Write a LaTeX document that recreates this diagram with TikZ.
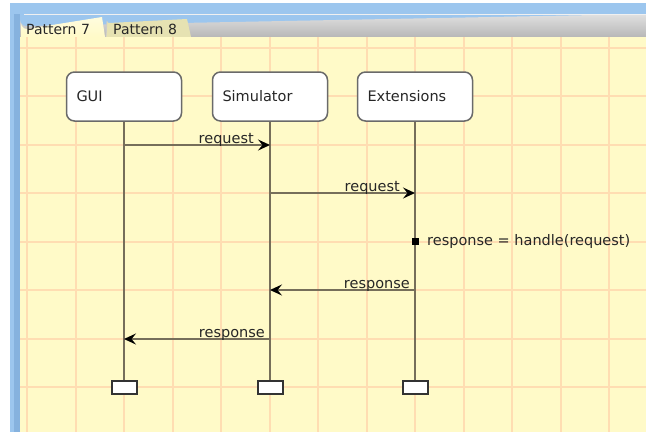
\documentclass[tikz,border=0pt]{standalone}
\usepackage{fontspec}
\setmainfont{DejaVu Sans}
\usetikzlibrary{arrows.meta}
\definecolor{bgblue}{HTML}{9CC6EE}
\definecolor{bgblue2}{HTML}{86B2DE}
\definecolor{canvas}{HTML}{FFFAC8}
\definecolor{gridc}{HTML}{FFDDB2}
\definecolor{lifec}{HTML}{766E5A}
\definecolor{tabeight}{HTML}{E6E2B2}
\definecolor{boxborder}{HTML}{6A6A6A}
\tikzset{
  actor/.style={draw=boxborder, line width=1.5pt, rounded corners=8pt, fill=white,
    minimum width=115pt, minimum height=49pt, text width=95pt, align=left,
    inner xsep=10pt, font=\fontsize{14.5}{16}\selectfont, text=black!85},
  endbox/.style={draw=black!80, line width=2pt, fill=white, minimum width=25pt,
    minimum height=13pt, inner sep=0pt},
  life/.style={draw=lifec, line width=2pt},
  msg/.style={draw=lifec, line width=2pt, -{Stealth[black,length=12pt,width=11pt,inset=4.5pt]}},
  msglabel/.style={font=\fontsize{14.5}{16}\selectfont, text=black!85, inner sep=0pt, anchor=base east},
  tabtext/.style={font=\fontsize{14}{16}\selectfont, text=black!85, inner sep=0pt, anchor=west},
  gridline/.style={draw=gridc, line width=2pt}
}
\begin{document}
\begin{tikzpicture}[x=1pt,y=-1pt]
\useasboundingbox (0,0) rectangle (646,432);
% window background
\fill[white] (0,0) rectangle (646,432);
\fill[bgblue] (10,3) rectangle (646,432);
\fill[bgblue2] (14,14) rectangle (20,432);
% tab bar
\shade[top color=black!12, bottom color=black!28] (20,37) -- (20,20) arc[start angle=180,end angle=90,radius=6] -- (646,14) -- (646,37) -- cycle;
\draw[black!6, line width=1pt] (24,14.5) -- (646,14.5);
% tabs
\fill[tabeight] (106,37) -- (107,21) arc[start angle=180,end angle=90,radius=2] -- (187,19) -- (191,37) -- cycle;
\draw[black!20, line width=0.8pt] (106,37) -- (107,21);
\shade[top color=canvas!60!white, bottom color=canvas] (21,37) -- (21,23) arc[start angle=180,end angle=90,radius=6] -- (102,17) -- (105,37) -- cycle;
\node[tabtext] (tab7) at (26,29.5) {Pattern 7};
\node[tabtext] (tab8) at (113,29.5) {Pattern 8};
% canvas
\fill[canvas] (20,37) rectangle (646,432);
\foreach \x in {27,75.5,124,172.5,221,269.5,318,366.5,415,463.5,512,560.5,609}
  \draw[gridline] (\x,37) -- (\x,432);
\foreach \y in {47.5,96,144.5,193,241.5,290,338.5,387}
  \draw[gridline] (20,\y) -- (646,\y);
% actors
\node[actor] (gui) at (124,96.5) {GUI};
\node[actor] (sim) at (270,96.5) {Simulator};
\node[actor] (ext) at (415,96.5) {Extensions};
% end boxes
\node[endbox] (guiend) at (124,387) {};
\node[endbox] (simend) at (270,387) {};
\node[endbox] (extend) at (415,387) {};
% lifelines
\draw[life] (gui.south) -- (guiend.north);
\draw[life] (sim.south) -- (simend.north);
\draw[life] (ext.south) -- (extend.north);
% message points
\coordinate (g1) at (124,145);
\coordinate (s1) at (270,145);
\coordinate (s2) at (270,193);
\coordinate (e2) at (415,193);
\coordinate (e3) at (415,290);
\coordinate (s3) at (270,290);
\coordinate (s4) at (270,339);
\coordinate (g4) at (124,339);
\draw[msg] (g1) -- (s1);
\draw[msg] (s2) -- (e2);
\draw[msg] (e3) -- (s3);
\draw[msg] (s4) -- (g4);
\node[msglabel] (l1) at (254,143.5) {request};
\node[msglabel] (l2) at (400,191.5) {request};
\node[msglabel] (l3) at (410,288.5) {response};
\node[msglabel] (l4) at (265,337.5) {response};
% action
\node[fill=black, minimum size=7pt, inner sep=0pt] (act) at (415,241.5) {};
\node[font=\fontsize{14.5}{16}\selectfont, text=black!85, inner sep=0pt, anchor=west] (actlabel) at (427,241.5) {response = handle(request)};
\end{tikzpicture}
\end{document}
